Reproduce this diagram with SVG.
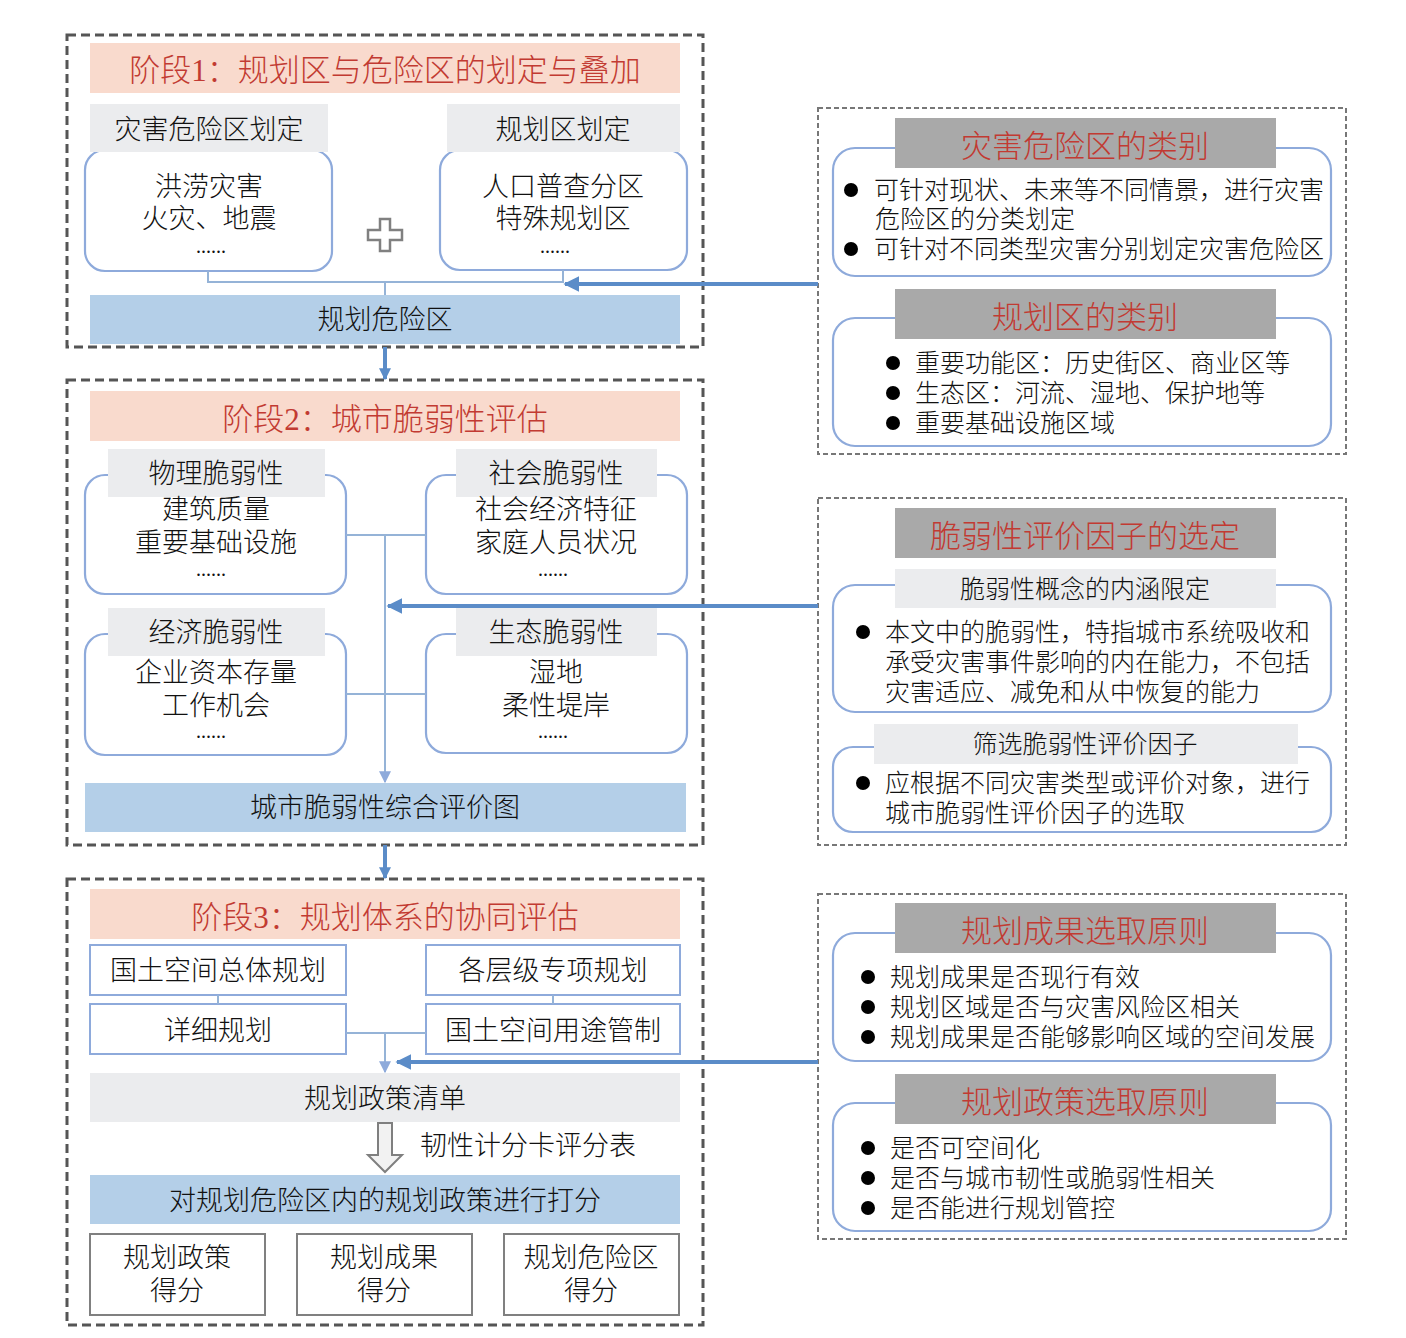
<svg xmlns="http://www.w3.org/2000/svg" width="1406" height="1338" viewBox="0 0 1406 1338">
<defs>
<style>
.stage{fill:none;stroke:#555;stroke-width:3;stroke-dasharray:9 5}
.panel{fill:none;stroke:#777;stroke-width:2;stroke-dasharray:5 3}
.pink{fill:#f9dacd}
.lgrey{fill:#ebecee}
.dgrey{fill:#a9a9a9}
.blue{fill:#b4cfe8}
.rbox{fill:#fff;stroke:#8eaadb;stroke-width:2.2}
.sbox{fill:#fff;stroke:#8eaadb;stroke-width:2}
.gbox{fill:#fff;stroke:#808080;stroke-width:2}
.conn{fill:none;stroke:#95b3d7;stroke-width:2}
.main{fill:none;stroke:#5b8cc8;stroke-width:4}
text{font-family:"Noto Sans CJK SC",sans-serif;fill:#111;font-weight:300}
.c{text-anchor:middle}
.f27{font-size:27px}
.f25{font-size:25px}
.title{font-family:"Liberation Serif","Noto Sans CJK SC",serif;font-size:31px;fill:#c23a32}
.head{font-size:31px;fill:#c23a32}
.dots{font-family:"Liberation Serif",serif;font-size:20px;font-weight:normal}
</style>
<marker id="big" viewBox="0 0 10 10" refX="9" refY="5" markerWidth="16" markerHeight="16" markerUnits="userSpaceOnUse" orient="auto"><path d="M0,0 L10,5 L0,10 z" fill="#5b8cc8"/></marker>
<marker id="small" viewBox="0 0 10 10" refX="9" refY="5" markerWidth="12" markerHeight="12" markerUnits="userSpaceOnUse" orient="auto"><path d="M0,0 L10,5 L0,10 z" fill="#5b8cc8"/></marker>
<marker id="light" viewBox="0 0 10 10" refX="9" refY="5" markerWidth="12" markerHeight="12" markerUnits="userSpaceOnUse" orient="auto"><path d="M0,0 L10,5 L0,10 z" fill="#8eaadb"/></marker>
</defs>

<!-- Stage 1 -->
<g id="stage1">
<rect class="stage" x="67" y="35" width="636" height="312"/>
<rect class="pink" x="90" y="43" width="590" height="50"/>
<text class="title c" x="385" y="81">阶段1：规划区与危险区的划定与叠加</text>
</g>
<g id="hazard-zone">
<rect class="rbox" x="85" y="150" width="247" height="121" rx="20"/>
<rect class="lgrey" x="90" y="104" width="238" height="48"/>
<text class="f27 c" x="209" y="139">灾害危险区划定</text>
<text class="f27 c" x="209" y="196">洪涝灾害</text>
<text class="f27 c" x="209" y="228">火灾、地震</text>
<text class="dots c" x="211" y="253">......</text>
</g>
<g id="plus">
<polygon points="380,219 390,219 390,230 402,230 402,240 390,240 390,251 380,251 380,240 368,240 368,230 380,230" fill="#fff" stroke="#808080" stroke-width="2.5"/>
</g>
<g id="planning-zone">
<rect class="rbox" x="440" y="150" width="247" height="120" rx="20"/>
<rect class="lgrey" x="447" y="104" width="233" height="48"/>
<text class="f27 c" x="563" y="139">规划区划定</text>
<text class="f27 c" x="563" y="196">人口普查分区</text>
<text class="f27 c" x="563" y="228">特殊规划区</text>
<text class="dots c" x="555" y="253">......</text>
</g>
<g id="planning-hazard-zone">
<rect class="blue" x="90" y="295" width="590" height="49"/>
<text class="f27 c" x="385" y="329">规划危险区</text>
</g>

<!-- Stage 2 -->
<g id="stage2">
<rect class="stage" x="67" y="380" width="636" height="465"/>
<rect class="pink" x="90" y="391" width="590" height="50"/>
<text class="title c" x="385" y="430">阶段2：城市脆弱性评估</text>
</g>
<g id="physical">
<rect class="rbox" x="85" y="475" width="261" height="119" rx="20"/>
<rect class="lgrey" x="108" y="449" width="217" height="48"/>
<text class="f27 c" x="216" y="483">物理脆弱性</text>
<text class="f27 c" x="216" y="519">建筑质量</text>
<text class="f27 c" x="216" y="552">重要基础设施</text>
<text class="dots c" x="211" y="576">......</text>
</g>
<g id="social">
<rect class="rbox" x="426" y="475" width="261" height="119" rx="20"/>
<rect class="lgrey" x="456" y="449" width="201" height="48"/>
<text class="f27 c" x="556" y="483">社会脆弱性</text>
<text class="f27 c" x="556" y="519">社会经济特征</text>
<text class="f27 c" x="556" y="552">家庭人员状况</text>
<text class="dots c" x="553" y="576">......</text>
</g>
<g id="economic">
<rect class="rbox" x="85" y="634" width="261" height="121" rx="20"/>
<rect class="lgrey" x="108" y="608" width="217" height="48"/>
<text class="f27 c" x="216" y="642">经济脆弱性</text>
<text class="f27 c" x="216" y="682">企业资本存量</text>
<text class="f27 c" x="216" y="715">工作机会</text>
<text class="dots c" x="211" y="738">......</text>
</g>
<g id="ecological">
<rect class="rbox" x="426" y="634" width="261" height="119" rx="20"/>
<rect class="lgrey" x="456" y="608" width="201" height="48"/>
<text class="f27 c" x="556" y="642">生态脆弱性</text>
<text class="f27 c" x="556" y="682">湿地</text>
<text class="f27 c" x="556" y="715">柔性堤岸</text>
<text class="dots c" x="553" y="738">......</text>
</g>
<g id="vuln-map">
<rect class="blue" x="85" y="783" width="601" height="49"/>
<text class="f27 c" x="385" y="817">城市脆弱性综合评价图</text>
</g>

<!-- Stage 3 -->
<g id="stage3">
<rect class="stage" x="67" y="879" width="636" height="446"/>
<rect class="pink" x="90" y="889" width="590" height="50"/>
<text class="title c" x="385" y="928">阶段3：规划体系的协同评估</text>
</g>
<g id="master-plan">
<rect class="sbox" x="90" y="945" width="256" height="50"/>
<text class="f27 c" x="218" y="980">国土空间总体规划</text>
</g>
<g id="special-plan">
<rect class="sbox" x="426" y="945" width="254" height="50"/>
<text class="f27 c" x="553" y="980">各层级专项规划</text>
</g>
<g id="detail-plan">
<rect class="sbox" x="90" y="1004" width="256" height="50"/>
<text class="f27 c" x="218" y="1040">详细规划</text>
</g>
<g id="use-control">
<rect class="sbox" x="426" y="1004" width="254" height="50"/>
<text class="f27 c" x="553" y="1040">国土空间用途管制</text>
</g>
<g id="policy-list">
<rect class="lgrey" x="90" y="1073" width="590" height="49"/>
<text class="f27 c" x="385" y="1108">规划政策清单</text>
</g>
<g id="scorecard">
<polygon points="378,1123 392,1123 392,1155 402,1155 385,1172 368,1155 378,1155" fill="#f2f2f2" stroke="#7f7f7f" stroke-width="2"/>
<text class="f27" x="420" y="1155">韧性计分卡评分表</text>
</g>
<g id="scoring">
<rect class="blue" x="90" y="1175" width="590" height="49"/>
<text class="f27 c" x="385" y="1210">对规划危险区内的规划政策进行打分</text>
</g>
<g id="score-policy">
<rect class="gbox" x="90" y="1234" width="175" height="81"/>
<text class="f27 c" x="177" y="1267">规划政策</text>
<text class="f27 c" x="177" y="1300">得分</text>
</g>
<g id="score-result">
<rect class="gbox" x="297" y="1234" width="175" height="81"/>
<text class="f27 c" x="384" y="1267">规划成果</text>
<text class="f27 c" x="384" y="1300">得分</text>
</g>
<g id="score-zone">
<rect class="gbox" x="504" y="1234" width="175" height="81"/>
<text class="f27 c" x="591" y="1267">规划危险区</text>
<text class="f27 c" x="591" y="1300">得分</text>
</g>

<!-- Right panel A -->
<g id="panelA">
<rect class="panel" x="818" y="108" width="528" height="346"/>
<rect class="rbox" x="833" y="148" width="498" height="128" rx="22"/>
<rect class="dgrey" x="895" y="118" width="381" height="50"/>
<text class="head c" x="1085" y="157">灾害危险区的类别</text>
<circle cx="851" cy="190" r="7"/>
<text class="f25" x="874" y="199">可针对现状、未来等不同情景，进行灾害</text>
<text class="f25" x="875" y="228">危险区的分类划定</text>
<circle cx="851" cy="249" r="7"/>
<text class="f25" x="874" y="258">可针对不同类型灾害分别划定灾害危险区</text>
<rect class="rbox" x="833" y="318" width="498" height="128" rx="22"/>
<rect class="dgrey" x="895" y="289" width="381" height="50"/>
<text class="head c" x="1085" y="328">规划区的类别</text>
<circle cx="893" cy="363" r="7"/>
<text class="f25" x="915" y="372">重要功能区：历史街区、商业区等</text>
<circle cx="893" cy="393" r="7"/>
<text class="f25" x="915" y="402">生态区：河流、湿地、保护地等</text>
<circle cx="893" cy="423" r="7"/>
<text class="f25" x="915" y="432">重要基础设施区域</text>
</g>

<!-- Right panel B -->
<g id="panelB">
<rect class="panel" x="818" y="498" width="528" height="347"/>
<rect class="dgrey" x="895" y="508" width="381" height="50"/>
<text class="head c" x="1085" y="547">脆弱性评价因子的选定</text>
<rect class="rbox" x="833" y="585" width="498" height="127" rx="22"/>
<rect class="lgrey" x="895" y="569" width="381" height="39"/>
<text class="f25 c" x="1085" y="598">脆弱性概念的内涵限定</text>
<circle cx="863" cy="632" r="7"/>
<text class="f25" x="885" y="641">本文中的脆弱性，特指城市系统吸收和</text>
<text class="f25" x="885" y="671">承受灾害事件影响的内在能力，不包括</text>
<text class="f25" x="885" y="701">灾害适应、减免和从中恢复的能力</text>
<rect class="rbox" x="833" y="747" width="498" height="85" rx="20"/>
<rect class="lgrey" x="874" y="724" width="424" height="40"/>
<text class="f25 c" x="1085" y="753">筛选脆弱性评价因子</text>
<circle cx="863" cy="783" r="7"/>
<text class="f25" x="885" y="792">应根据不同灾害类型或评价对象，进行</text>
<text class="f25" x="885" y="822">城市脆弱性评价因子的选取</text>
</g>

<!-- Right panel C -->
<g id="panelC">
<rect class="panel" x="818" y="894" width="528" height="345"/>
<rect class="rbox" x="833" y="933" width="498" height="128" rx="22"/>
<rect class="dgrey" x="895" y="903" width="381" height="50"/>
<text class="head c" x="1085" y="942">规划成果选取原则</text>
<circle cx="868" cy="977" r="7"/>
<text class="f25" x="890" y="986">规划成果是否现行有效</text>
<circle cx="868" cy="1007" r="7"/>
<text class="f25" x="890" y="1016">规划区域是否与灾害风险区相关</text>
<circle cx="868" cy="1037" r="7"/>
<text class="f25" x="890" y="1046">规划成果是否能够影响区域的空间发展</text>
<rect class="rbox" x="833" y="1103" width="498" height="128" rx="22"/>
<rect class="dgrey" x="895" y="1074" width="381" height="50"/>
<text class="head c" x="1085" y="1113">规划政策选取原则</text>
<circle cx="868" cy="1148" r="7"/>
<text class="f25" x="890" y="1157">是否可空间化</text>
<circle cx="868" cy="1178" r="7"/>
<text class="f25" x="890" y="1187">是否与城市韧性或脆弱性相关</text>
<circle cx="868" cy="1208" r="7"/>
<text class="f25" x="890" y="1217">是否能进行规划管控</text>
</g>

<!-- Connectors -->
<g id="connectors">
<path class="conn" d="M208,271 V282 H563 V270 M385,282 V295"/>
<path class="conn" d="M346,535 H426 M346,694 H426"/>
<path class="conn" d="M385,535 V782" marker-end="url(#light)"/>
<path class="conn" d="M218,995 V1004 M553,995 V1004 M346,1033 H426"/>
<path class="conn" d="M385,1033 V1072" marker-end="url(#light)"/>
<path class="main" d="M818,284 H565" marker-end="url(#big)"/>
<path class="main" d="M818,606 H388" marker-end="url(#big)"/>
<path class="main" d="M818,1062 H397" marker-end="url(#big)"/>
<path class="main" d="M385,347 V379" marker-end="url(#small)"/>
<path class="main" d="M385,845 V878" marker-end="url(#small)"/>
</g>
</svg>
